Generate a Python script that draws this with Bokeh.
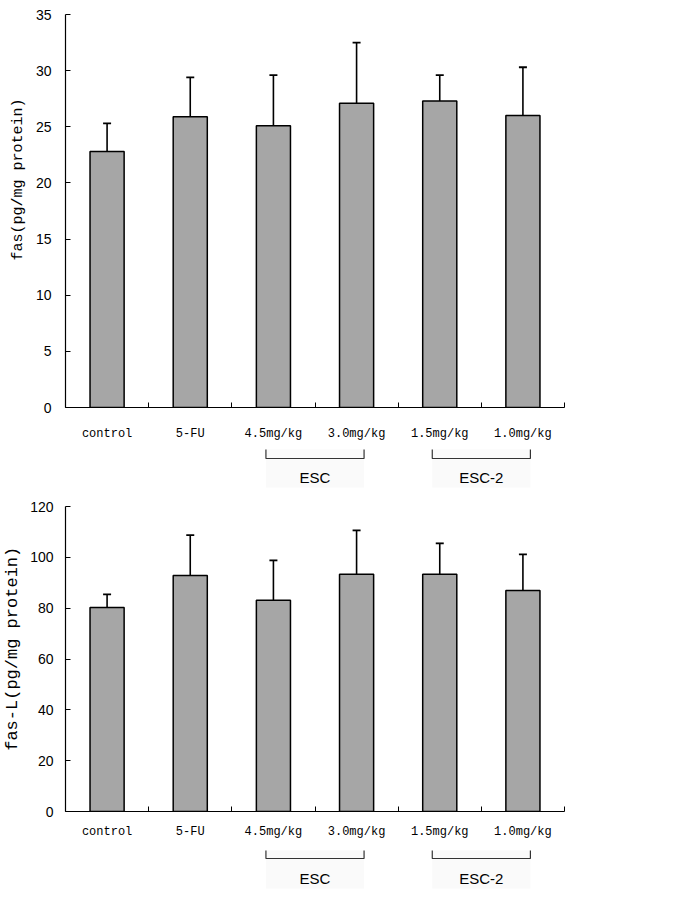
from bokeh.plotting import figure
from bokeh.models import Range1d, FixedTicker, ColumnDataSource
from bokeh.layouts import column
from bokeh.embed import file_html
from bokeh.resources import INLINE
from bokeh.core.properties import value

categories = ["control", "5-FU", "4.5mg/kg", "3.0mg/kg", "1.5mg/kg", "1.0mg/kg"]
fas_mean = [22.8, 25.9, 25.1, 27.1, 27.3, 26.0]
fas_sd = [2.5, 3.5, 4.5, 5.4, 2.3, 4.3]
fasl_mean = [80.3, 92.9, 83.1, 93.3, 93.3, 87.0]
fasl_sd = [5.1, 15.8, 15.7, 17.3, 12.2, 14.2]
fas_ticks = [0, 5, 10, 15, 20, 25, 30, 35]
fasl_ticks = [0, 20, 40, 60, 80, 100, 120]
groups = ["ESC", "ESC-2"]
group_members = [(2, 3), (4, 5)]

W = 600
BAR_FILL = "#a6a6a6"
NBSP = "\u00a0"


def make_chart(means, sds, ylabel, yticks, height, b_top, b_bottom, b_left, b_right,
               x_standoff, y_standoff, ylabel_size, ylabel_standoff):
    n = len(categories)
    xs = [i + 0.5 for i in range(n)]
    p = figure(width=W, height=height, x_range=Range1d(0, n),
               y_range=Range1d(yticks[0], yticks[-1]),
               output_backend="svg", toolbar_location=None,
               min_border_left=b_left, min_border_right=b_right,
               min_border_top=b_top, min_border_bottom=b_bottom)
    p.outline_line_color = None
    p.grid.visible = False
    p.background_fill_color = "white"
    src = ColumnDataSource(dict(x=xs, top=means,
                                upper=[m + s for m, s in zip(means, sds)]))
    p.segment(x0="x", y0="top", x1="x", y1="upper", source=src,
              line_color="black", line_width=1.6)
    p.scatter(x="x", y="upper", marker="dash", size=8, source=src,
              line_color="black", line_width=1.8)
    p.vbar(x="x", top="top", width=0.41, bottom=0, source=src,
           fill_color=BAR_FILL, line_color="black", line_width=1.5)

    xa = p.xaxis[0]
    xa.ticker = FixedTicker(ticks=xs, minor_ticks=list(range(n + 1)))
    xa.major_label_overrides = {x: c for x, c in zip(xs, categories)}
    xa.major_tick_line_color = None
    xa.minor_tick_line_color = "black"
    xa.minor_tick_in = 5
    xa.minor_tick_out = 0
    xa.axis_line_color = "black"
    xa.axis_line_width = 1.2
    xa.major_label_standoff = x_standoff
    xa.major_label_text_font = "Liberation Mono"
    xa.major_label_text_font_size = "12px"
    xa.major_label_text_color = "black"

    ya = p.yaxis[0]
    ya.ticker = FixedTicker(ticks=yticks)
    ya.minor_tick_line_color = None
    ya.major_tick_in = 5
    ya.major_tick_out = 0
    ya.major_tick_line_color = "black"
    ya.axis_line_color = "black"
    ya.axis_line_width = 1.2
    ya.major_label_standoff = y_standoff
    ya.major_label_text_font = "Liberation Sans"
    ya.major_label_text_font_size = "14px"
    ya.major_label_text_color = "black"
    ya.axis_label = ylabel
    ya.axis_label_text_font = "Liberation Mono"
    ya.axis_label_text_font_style = "normal"
    ya.axis_label_text_font_size = ylabel_size
    ya.axis_label_text_color = "black"
    ya.axis_label_standoff = ylabel_standoff
    return p


def make_groups(x_range, height, b_left, b_right, tick_top, bracket_y, text_y, box_bottom):
    g = figure(width=W, height=height, x_range=x_range, y_range=Range1d(height, 0),
               x_axis_type=None, y_axis_type=None,
               output_backend="svg", toolbar_location=None,
               min_border_left=b_left, min_border_right=b_right,
               min_border_top=0, min_border_bottom=0)
    g.outline_line_color = None
    g.grid.visible = False
    half = 0.59
    centers = [(a + b + 1) / 2 for a, b in group_members]
    lefts = [c - half for c in centers]
    rights = [c + half for c in centers]
    g.quad(left=lefts, right=rights, top=[tick_top] * len(groups),
           bottom=[box_bottom] * len(groups), fill_color="#fafafa", line_color=None)
    g.multi_line(xs=[[l, l, r, r] for l, r in zip(lefts, rights)],
                 ys=[[tick_top, bracket_y, bracket_y, tick_top] for _ in groups],
                 line_color="#333333", line_width=1.2)
    g.text(x=centers, y=[text_y] * len(groups), text=groups,
           text_align="center", text_baseline="middle",
           text_font=value("Liberation Sans"), text_font_size="15px",
           text_color="black")
    return g


p1 = make_chart(fas_mean, fas_sd, NBSP * 7 + "fas(pg/mg protein)", fas_ticks,
                height=445, b_top=14, b_bottom=38, b_left=60, b_right=32,
                x_standoff=13, y_standoff=14, ylabel_size="15px", ylabel_standoff=6)
g1 = make_groups(p1.x_range, 50, 60, 32, tick_top=4, bracket_y=13, text_y=32, box_bottom=42)
p2 = make_chart(fasl_mean, fasl_sd, NBSP * 2 + "fas-L(pg/mg protein)", fasl_ticks,
                height=347, b_top=11, b_bottom=31, b_left=61, b_right=36,
                x_standoff=7, y_standoff=12, ylabel_size="17px", ylabel_standoff=5)
g2 = make_groups(p2.x_range, 50, 61, 36, tick_top=8, bracket_y=16, text_y=36, box_bottom=46)

layout = column(p1, g1, p2, g2, spacing=0)
open("out.html", "w").write(file_html(layout, INLINE))
